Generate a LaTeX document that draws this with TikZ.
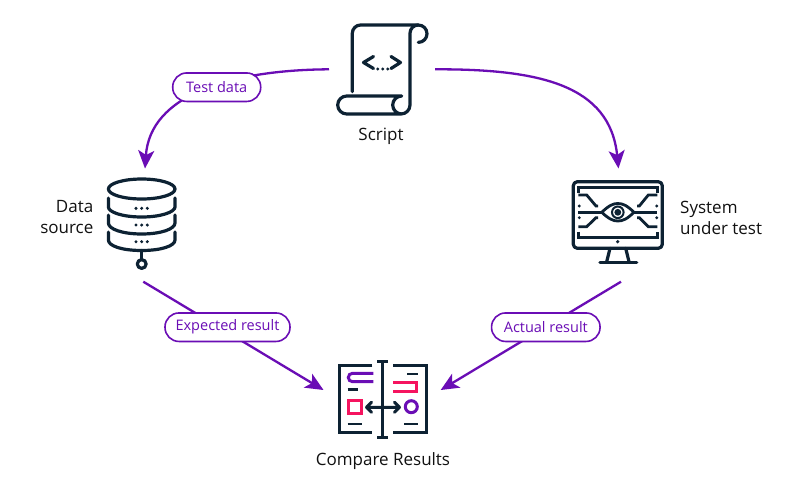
\documentclass[tikz,border=0pt]{standalone}
\usepackage{fontspec}
\setmainfont{Open Sans}
\usetikzlibrary{arrows.meta}
\definecolor{pur}{HTML}{6A0DB5}
\definecolor{ink}{HTML}{0D2233}
\definecolor{pnk}{HTML}{F5145F}
\definecolor{txt}{HTML}{111111}
\tikzset{
  conn/.style={draw=pur,line width=2.3pt},
  tip/.style={-{Stealth[length=18pt,width=16pt,inset=4.5pt]}},
  pill/.style={draw=pur,fill=white,line width=1.6pt,rounded corners=14pt,text=pur,font=\fontsize{14.5}{16}\selectfont,inner sep=0pt,minimum height=28.5pt},
  lab/.style={text=txt,font=\fontsize{17}{21}\selectfont,inner sep=0pt},
  icon/.style={draw=ink,line width=3.2pt,line cap=round,line join=round},
  thin/.style={draw=ink,line width=2.8pt,line cap=butt},
  pk/.style={draw=pnk,line width=3pt},
  pp/.style={draw=pur,line width=3pt},
}
\begin{document}
\begin{tikzpicture}[x=1pt,y=-1pt]
\useasboundingbox (0,0) rectangle (800,490);
\fill[white] (0,0) rectangle (800,490);
% connector ends
\coordinate (scriptL) at (329,69.3);
\coordinate (scriptR) at (435,69.3);
\coordinate (dataTop) at (145,168.5);
\coordinate (sysTop) at (618.5,168.5);
\coordinate (dataBot) at (143.3,281.7);
\coordinate (sysBot) at (621,281.7);
\coordinate (cmpL) at (323.5,390);
\coordinate (cmpR) at (440.7,390);
% connectors
\draw[conn,tip] (scriptL) .. controls (230,70) and (150,95) .. (dataTop);
\draw[conn,tip] (scriptR) .. controls (540,69) and (610,85) .. (sysTop);
\draw[conn,tip] (dataBot) -- (cmpL);
\draw[conn,tip] (sysBot) -- (cmpR);
% labels on connectors
\node[pill,minimum width=88pt] (testdata) at (216.7,87.2) {Test data};
\node[pill,minimum width=125pt] (expected) at (227.5,327.2) {Expected result};
\node[pill,minimum width=108.5pt] (actual) at (545.8,327.2) {Actual result};
% script icon
\draw[icon] (352.3,91.7) -- (352.3,33.3) arc[start angle=180,end angle=270,radius=8.3] -- (418.3,25)
  arc[start angle=-90,end angle=90,radius=8.7];
\draw[icon] (418.3,25) arc[start angle=270,end angle=180,radius=8.3] -- (410,105)
  arc[start angle=0,end angle=90,radius=9] -- (346.7,114)
  arc[start angle=90,end angle=270,radius=9] -- (401.7,96)
  arc[start angle=270,end angle=90,radius=9];
\draw[icon] (373.5,56.5) -- (363.5,62.5) -- (373.5,68.5);
\draw[icon] (391,56.5) -- (400.5,62.5) -- (391,68.5);
\foreach \x in {377.7,382.7,387.7}{\fill[ink] (\x,69) circle[radius=1.7];}
% database icon
\draw[icon] (141.7,189) ellipse[x radius=33.3,y radius=10];
\draw[icon] (108.4,198) -- (108.4,207) .. controls (108.4,212) and (122,217) .. (141.7,217) .. controls (161,217) and (175,212) .. (175,207) -- (175,198);
\draw[icon] (108.4,215) -- (108.4,223) .. controls (108.4,229) and (122,234) .. (141.7,234) .. controls (161,234) and (175,229) .. (175,223) -- (175,215);
\draw[icon] (108.4,232) -- (108.4,240) .. controls (108.4,246) and (122,250.5) .. (141.7,250.5) .. controls (161,250.5) and (175,246) .. (175,240) -- (175,232);
\draw[icon] (141.7,250.5) -- (141.7,259.5);
\draw[icon] (141.7,264) circle[radius=4.4];
\foreach \y in {208.3,225,241.7}{\foreach \x in {136,141.7,147.3}{\fill[ink] (\x,\y) circle[radius=1.7];}}
% monitor icon
\draw[icon,rounded corners=4pt] (573.3,181.7) rectangle (662.3,248.3);
\draw[icon] (610,248.3) -- (606.7,261.7);
\draw[icon] (625.7,248.3) -- (629,261.7);
\draw[icon] (600,262.3) -- (636.7,262.3);
\fill[ink] (617.7,241.7) circle[radius=1.8];
\draw[thin] (578.3,193.3) -- (578.3,187.3) -- (657.3,187.3) -- (657.3,193.3);
\draw[thin] (578.3,231.7) -- (578.3,237.7) -- (657.3,237.7) -- (657.3,231.7);
\draw[thin] (578.3,212.3) -- (601.7,212.3) (634,212.3) -- (657.3,212.3);
\draw[thin,line join=round] (601.7,212.3) .. controls (609,205.5) and (613,203.5) .. (617.8,203.5) .. controls (623,203.5) and (627,205.5) .. (634,212.3) .. controls (627,219) and (623,221) .. (617.8,221) .. controls (613,221) and (609,219) .. (601.7,212.3) -- cycle;
\draw[ink,line width=2pt] (617.8,212.3) circle[radius=5.8];
\fill[ink] (617.8,212.3) circle[radius=3.4];
\draw[thin] (578.3,195) -- (586.7,195) -- (596,206) -- (598,206);
\draw[thin] (657.3,195) -- (648.3,195) -- (639.3,206) -- (637,206);
\draw[thin] (578.3,226.7) -- (586.7,226.7) -- (596,217.7) -- (598,217.7);
\draw[thin] (657.3,226.7) -- (648.3,226.7) -- (639.3,217.7) -- (637,217.7);
\foreach \x in {579.3,656.7}{\foreach \y in {206,217.7}{\fill[ink] (\x,\y) circle[radius=1.6];}}
% compare icon
\draw[thin,line width=3pt,line join=miter] (372.3,365) -- (339.3,365) -- (339.3,432.3) -- (372.3,432.3);
\draw[thin,line width=3pt,line join=miter] (393.3,365) -- (426.7,365) -- (426.7,432.3) -- (393.3,432.3);
\draw[thin,line width=3pt] (382.7,361) -- (382.7,437.3) (377.3,361) -- (388.3,361) (377.3,437.3) -- (388.3,437.3);
\draw[ink,line width=3pt,line cap=round,line join=round] (366.5,407.3) -- (399.5,407.3) (371.5,402.3) -- (366.5,407.3) -- (371.5,412.3) (394.5,402.3) -- (399.5,407.3) -- (394.5,412.3);
\draw[pp] (373.3,373.3) -- (352.5,373.3) arc[start angle=270,end angle=90,radius=4.2] -- (373.3,381.7);
\draw[thin] (347.7,389.3) -- (358.3,389.3);
\draw[pk] (348.5,400.9) rectangle (361,413.4);
\draw[thin] (347.7,424) -- (361.7,424);
\draw[thin] (407.3,374) -- (418.3,374);
\draw[pk] (393.3,382.3) -- (416.8,382.3) -- (416.8,391) -- (393.3,391);
\draw[pp] (411.3,406.7) circle[radius=6];
\draw[thin] (404,424) -- (418.3,424);
% texts
\node[lab] (script) at (381,136) {Script};
\node[lab,align=right,anchor=east] (datasrc) at (93.5,217.5) {Data\\source};
\node[lab,align=left,anchor=west] (sut) at (680,218) {System\\under test};
\node[lab] (compare) at (383,461.5) {Compare Results};
\end{tikzpicture}
\end{document}
